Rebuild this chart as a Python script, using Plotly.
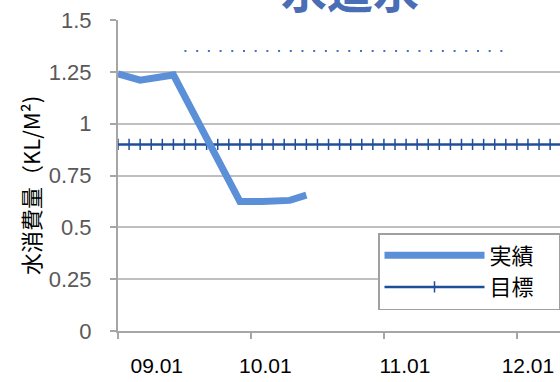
import plotly.graph_objects as go

# ---- data ----
actual_x = [0, 2, 5, 11, 13, 15.5, 17]          # months since 09.01
actual_y = [1.24, 1.21, 1.235, 0.625, 0.625, 0.63, 0.655]
target_x = list(range(0, 41))
target_y = [0.9] * len(target_x)
ref_x = [6, 35.2]
ref_y = [1.35, 1.35]
year_ticks = [0, 12, 24, 36]
label_pos = [3.5, 13.3, 25.9, 37.0]
label_text = ["09.01", "10.01", "11.01", "12.01"]
y_ticks = [0, 0.25, 0.5, 0.75, 1, 1.25, 1.5]
y_labels = ["0", "0.25", "0.5", "0.75", "1", "1.25", "1.5"]
title_text = "水道水"
pad = "\u00a0" * 4

W, H = 560, 382
ML, MR, MT, MB = 118, 0, 20, 51
pw = W - ML - MR
ph = H - MT - MB
xmax = pw / 11.08

fig = go.Figure()
fig.add_trace(go.Scatter(x=ref_x, y=ref_y, mode="lines", showlegend=False,
                         line=dict(color="#4472C4", width=2, dash="2px,9.7px"),
                         hoverinfo="skip"))
fig.add_trace(go.Scatter(x=target_x, y=target_y, mode="lines+markers", name="目標" + pad,
                         line=dict(color="#1F4E9A", width=2.5),
                         marker=dict(symbol="line-ns", size=8,
                                     line=dict(color="#1F4E9A", width=1.5))))
fig.add_trace(go.Scatter(x=actual_x, y=actual_y, mode="lines", name="実績" + pad,
                         line=dict(color="#5B8FD8", width=7)))

# legend shadow
lx0 = (378 - ML) / pw
ly0 = (331 - 233) / ph
fig.add_shape(type="rect", xref="paper", yref="paper",
              x0=lx0 + 3 / pw, x1=1.05, y0=ly0 - 3 / ph - 73 / ph, y1=ly0 - 3 / ph,
              fillcolor="#D6D6D6", line=dict(width=0), layer="above")

fig.add_annotation(text="<b>" + title_text + "</b>", xref="paper", yref="paper",
                   x=(350 - ML) / pw, y=1 + 32 / ph, xanchor="center", yanchor="middle",
                   showarrow=False,
                   font=dict(family="Noto Sans CJK JP", size=46, color="#4A6EB5"))

fig.add_annotation(text="水消費量（KL/M²)", xref="paper", yref="paper",
                   x=-(ML - 30) / pw, y=(331 - 186) / ph, xanchor="center", yanchor="middle",
                   textangle=-90, showarrow=False,
                   font=dict(family="Noto Sans CJK JP", size=22, color="#000000"))

fig.update_layout(
    width=W, height=H,
    margin=dict(l=ML, r=MR, t=MT, b=MB, autoexpand=False),
    paper_bgcolor="white", plot_bgcolor="white",
    xaxis=dict(range=[0, xmax], tickvals=label_pos, ticktext=label_text, ticks="",
               showgrid=False, zeroline=False, showline=True, linecolor="#A6A6A6", linewidth=2,
               tickfont=dict(family="Liberation Sans", size=21, color="#000000"),
               ticklabelstandoff=15, automargin=False,
               minor=dict(tickvals=year_ticks, ticks="outside", ticklen=6, tickwidth=2,
                          tickcolor="#A6A6A6", showgrid=False)),
    yaxis=dict(range=[0, 1.5], tickvals=y_ticks, ticktext=y_labels, ticks="outside",
               ticklen=6, tickwidth=2, tickcolor="#A6A6A6",
               showgrid=True, gridcolor="#BFBFBF", gridwidth=1.5, zeroline=False,
               showline=True, linecolor="#A6A6A6", linewidth=2, automargin=False,
               tickfont=dict(family="Liberation Sans", size=22, color="#595959"),
               ticklabelstandoff=14),
    legend=dict(x=lx0, y=ly0, xanchor="left", yanchor="top", traceorder="reversed",
                bgcolor="white", bordercolor="#A0A0A0", borderwidth=1.5,
                font=dict(family="Noto Sans CJK JP", size=22, color="#000000"),
                itemwidth=100),
)

fig.write_html("out.html", config={"displayModeBar": False},
               post_script="document.body.style.margin='0';")
